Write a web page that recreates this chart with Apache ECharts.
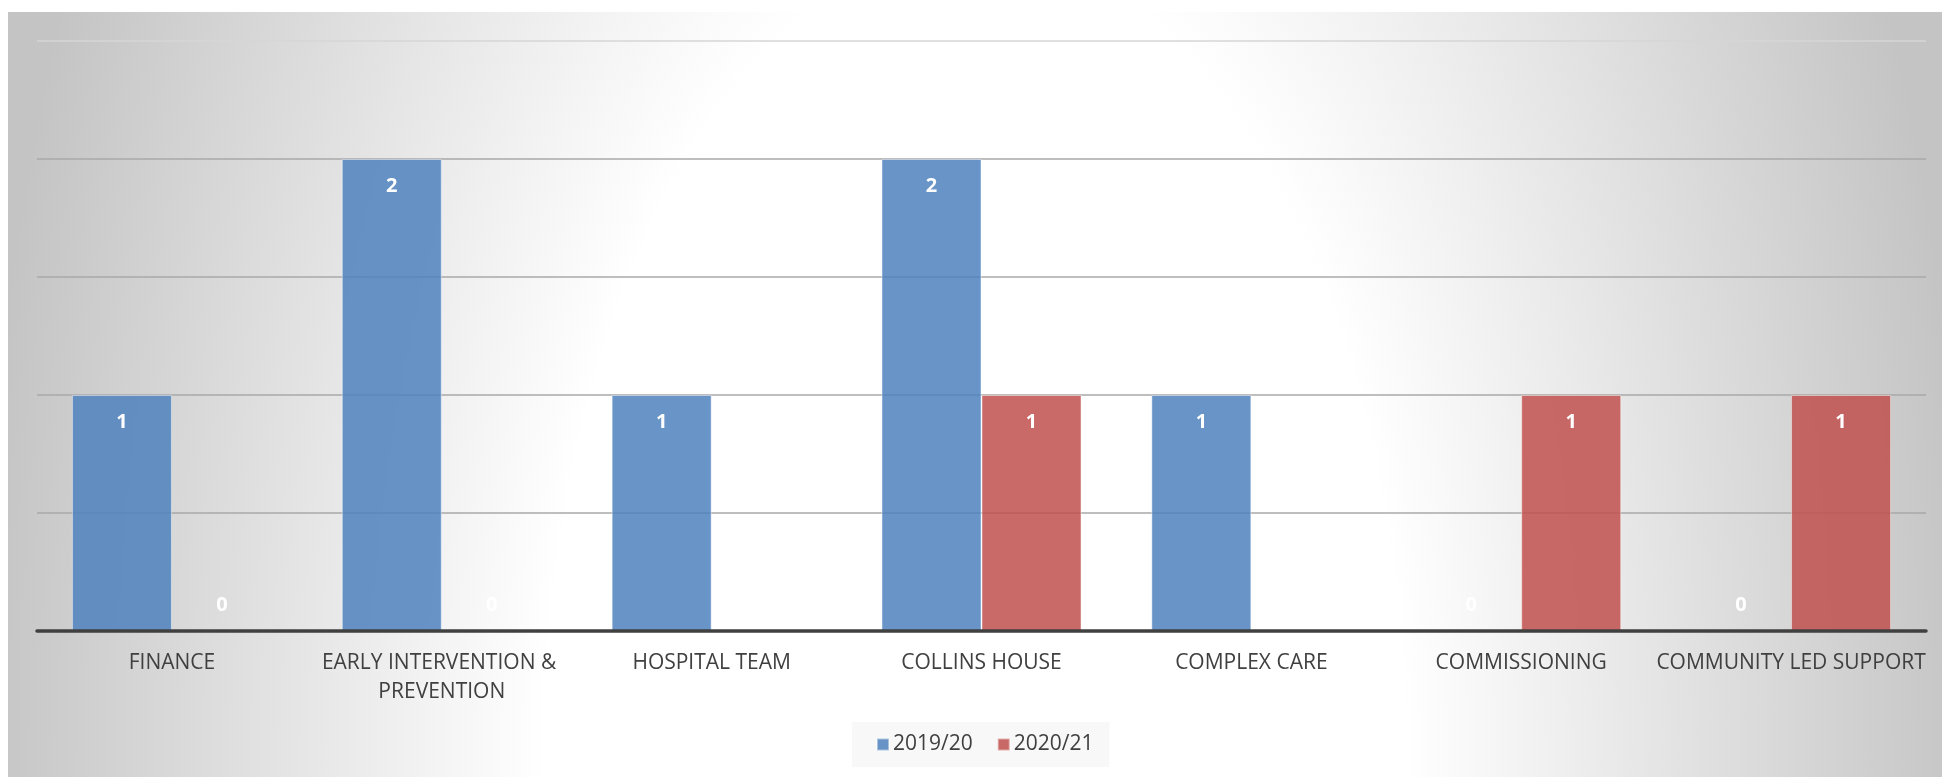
<!DOCTYPE html>
<html>
<head>
<meta charset="utf-8">
<script src="https://cdn.jsdelivr.net/npm/echarts@6/dist/echarts.min.js"></script>
<style>
  html, body { margin: 0; padding: 0; background: #ffffff; }
  #frame {
    position: absolute; left: 8px; top: 12px; width: 1934px; height: 765px;
    background: radial-gradient(ellipse 1000px 1920px at 50% 100%, #ffffff 0%, #ffffff 43%, #c4c4c4 100%);
  }
  #chart { position: absolute; left: 0; top: 0; width: 1942px; height: 777px; }
</style>
</head>
<body>
<div id="frame"></div>
<div id="chart"></div>
<script>
const categories = ['FINANCE', 'EARLY INTERVENTION & PREVENTION', 'HOSPITAL TEAM', 'COLLINS HOUSE', 'COMPLEX CARE', 'COMMISSIONING', 'COMMUNITY LED SUPPORT'];
const seriesNames = ['2019/20', '2020/21'];
const values2019 = [1, 2, 1, 2, 1, 0, 0];
const values2020 = [0, 0, null, 1, null, 1, 1];
const yTicks = [0, 0.5, 1, 1.5, 2, 2.5];

const labelFont = '"Open Sans", "Liberation Sans", sans-serif';

function toData(arr) {
  return arr.map(v => v === 0
    ? { value: 0, itemStyle: { borderWidth: 0, color: 'rgba(0,0,0,0)' }, label: { position: 'insideBottom', distance: 16 } }
    : v);
}

const chart = echarts.init(document.getElementById('chart'), null, { renderer: 'canvas' });
chart.setOption({
  backgroundColor: 'transparent',
  animation: false,
  grid: { left: 37, right: 16, top: 41, bottom: 146, containLabel: false },
  legend: {
    data: seriesNames,
    left: 852, top: 722,
    padding: [12, 16, 12, 24],
    backgroundColor: '#f8f8f8',
    itemWidth: 12, itemHeight: 12, itemGap: 24,
    icon: 'rect',
    textStyle: { fontFamily: labelFont, fontSize: 21, color: '#404040', padding: [0, 0, 0, -1] }
  },
  xAxis: {
    type: 'category',
    data: categories,
    z: 5,
    axisLine: { show: true, lineStyle: { color: '#404040', width: 3.5 } },
    axisTick: { show: false },
    axisLabel: {
      interval: 0,
      margin: 18,
      fontFamily: labelFont, fontSize: 21, color: '#404040',
      width: 280, overflow: 'break', lineHeight: 29
    }
  },
  yAxis: {
    type: 'value',
    min: yTicks[0], max: yTicks[yTicks.length - 1], interval: 0.5,
    axisLabel: { show: false },
    axisLine: { show: false },
    axisTick: { show: false },
    splitLine: { show: true, lineStyle: { color: ['#a8a8a8', '#a8a8a8', '#a8a8a8', '#a8a8a8', '#a8a8a8', '#d6d6d6'], width: 1.5 } }
  },
  series: [
    {
      name: seriesNames[0], type: 'bar', data: toData(values2019),
      barWidth: 100, barGap: '0%',
      itemStyle: { color: 'rgba(79,129,189,0.85)', borderColor: 'rgba(255,255,255,0.45)', borderWidth: 1 },
      label: { show: true, position: 'insideTop', distance: 17, color: '#ffffff', fontWeight: 'bold', fontSize: 20, fontFamily: labelFont }
    },
    {
      name: seriesNames[1], type: 'bar', data: toData(values2020),
      barWidth: 100, barGap: '0%',
      itemStyle: { color: 'rgba(192,80,77,0.85)', borderColor: 'rgba(255,255,255,0.45)', borderWidth: 1 },
      label: { show: true, position: 'insideTop', distance: 17, color: '#ffffff', fontWeight: 'bold', fontSize: 20, fontFamily: labelFont }
    }
  ]
});
</script>
</body>
</html>
